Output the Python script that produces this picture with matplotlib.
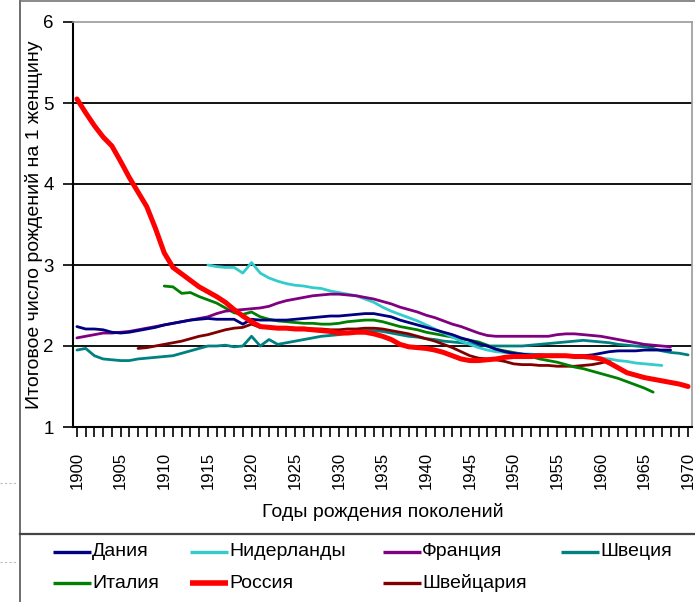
import matplotlib
matplotlib.use("Agg")
import matplotlib.pyplot as plt
from matplotlib.lines import Line2D
from matplotlib.ticker import MultipleLocator
import numpy as np

plt.rcParams['font.family'] = ['Liberation Sans', 'DejaVu Sans']

# ---------------- data ----------------
denmark_years = list(range(1900, 1969))
denmark = [2.24, 2.21, 2.21, 2.20, 2.17, 2.16, 2.17, 2.19, 2.21, 2.23,
           2.26, 2.28, 2.30, 2.32, 2.33, 2.34, 2.33, 2.33, 2.33, 2.27,
           2.33, 2.32, 2.32, 2.32, 2.32, 2.33, 2.34, 2.35, 2.36, 2.37,
           2.37, 2.38, 2.39, 2.40, 2.40, 2.38, 2.36, 2.32, 2.29, 2.26,
           2.23, 2.20, 2.17, 2.14, 2.10, 2.07, 2.03, 2.00, 1.96, 1.93,
           1.91, 1.90, 1.89, 1.89, 1.88, 1.88, 1.88, 1.88, 1.88, 1.89,
           1.91, 1.93, 1.94, 1.94, 1.94, 1.95, 1.95, 1.95, 1.95]

netherlands_years = list(range(1915, 1968))
netherlands = [3.00, 2.98, 2.97, 2.97, 2.90, 3.03, 2.90, 2.84, 2.80, 2.77,
               2.75, 2.74, 2.72, 2.71, 2.68, 2.66, 2.64, 2.62, 2.58, 2.54,
               2.48, 2.43, 2.39, 2.35, 2.31, 2.26, 2.21, 2.16, 2.11, 2.06,
               2.02, 1.98, 1.95, 1.93, 1.92, 1.91, 1.90, 1.90, 1.89, 1.89,
               1.89, 1.88, 1.88, 1.87, 1.86, 1.85, 1.84, 1.82, 1.81, 1.79,
               1.78, 1.77, 1.76]

france_years = list(range(1900, 1969))
france = [2.10, 2.12, 2.14, 2.16, 2.16, 2.17, 2.18, 2.20, 2.22, 2.24,
          2.26, 2.28, 2.30, 2.32, 2.34, 2.36, 2.40, 2.43, 2.44, 2.45,
          2.46, 2.47, 2.49, 2.53, 2.56, 2.58, 2.60, 2.62, 2.63, 2.64,
          2.64, 2.63, 2.62, 2.60, 2.58, 2.55, 2.52, 2.48, 2.45, 2.42,
          2.38, 2.35, 2.31, 2.27, 2.24, 2.20, 2.16, 2.13, 2.12, 2.12,
          2.12, 2.12, 2.12, 2.12, 2.12, 2.14, 2.15, 2.15, 2.14, 2.13,
          2.12, 2.10, 2.08, 2.06, 2.04, 2.02, 2.01, 2.00, 1.99]

sweden_years = list(range(1900, 1971))
sweden = [1.95, 1.97, 1.88, 1.84, 1.83, 1.82, 1.82, 1.84, 1.85, 1.86,
          1.87, 1.88, 1.91, 1.94, 1.97, 2.00, 2.00, 2.01, 1.99, 2.00,
          2.12, 2.00, 2.08, 2.02, 2.04, 2.06, 2.08, 2.10, 2.12, 2.13,
          2.14, 2.16, 2.18, 2.19, 2.19, 2.18, 2.16, 2.14, 2.12, 2.11,
          2.09, 2.08, 2.06, 2.05, 2.04, 2.03, 2.02, 2.00, 2.00, 2.00,
          2.00, 2.00, 2.01, 2.02, 2.03, 2.04, 2.05, 2.06, 2.07, 2.06,
          2.05, 2.04, 2.02, 2.01, 2.00, 1.99, 1.97, 1.94, 1.92, 1.91,
          1.89]

italy_years = list(range(1910, 1967))
italy = [2.74, 2.73, 2.65, 2.66, 2.61, 2.57, 2.53, 2.47, 2.41, 2.39,
         2.42, 2.36, 2.33, 2.31, 2.30, 2.29, 2.28, 2.28, 2.27, 2.27,
         2.28, 2.30, 2.31, 2.32, 2.32, 2.30, 2.27, 2.24, 2.22, 2.20,
         2.17, 2.15, 2.13, 2.11, 2.09, 2.07, 2.05, 2.01, 1.96, 1.94,
         1.92, 1.90, 1.87, 1.84, 1.82, 1.80, 1.77, 1.74, 1.72, 1.69,
         1.66, 1.63, 1.60, 1.56, 1.52, 1.48, 1.43]

russia_years = list(range(1900, 1971))
russia = [5.05, 4.88, 4.72, 4.58, 4.47, 4.28, 4.08, 3.90, 3.72, 3.45,
          3.15, 2.97, 2.89, 2.81, 2.73, 2.67, 2.61, 2.54, 2.45, 2.37,
          2.30, 2.24, 2.23, 2.22, 2.22, 2.21, 2.21, 2.20, 2.19, 2.18,
          2.16, 2.16, 2.17, 2.17, 2.15, 2.12, 2.08, 2.02, 1.99, 1.98,
          1.97, 1.95, 1.92, 1.88, 1.84, 1.82, 1.82, 1.83, 1.84, 1.86,
          1.87, 1.87, 1.87, 1.88, 1.88, 1.88, 1.88, 1.87, 1.87, 1.86,
          1.84, 1.79, 1.73, 1.67, 1.64, 1.61, 1.59, 1.57, 1.55, 1.53,
          1.50]

swiss_years = list(range(1907, 1962))
swiss = [1.97, 1.98, 2.00, 2.02, 2.04, 2.06, 2.09, 2.12, 2.14, 2.17,
         2.20, 2.22, 2.23, 2.27, 2.23, 2.23, 2.23, 2.23, 2.22, 2.22,
         2.21, 2.21, 2.20, 2.20, 2.21, 2.21, 2.22, 2.22, 2.21, 2.19,
         2.17, 2.15, 2.12, 2.09, 2.06, 2.02, 1.98, 1.93, 1.88, 1.85,
         1.84, 1.83, 1.81, 1.78, 1.77, 1.77, 1.76, 1.76, 1.75, 1.75,
         1.75, 1.76, 1.77, 1.79, 1.82]

series = [
    ("Дания", denmark_years, denmark, "#000080", 2.0),
    ("Нидерланды", netherlands_years, netherlands, "#33CCCC", 2.0),
    ("Франция", france_years, france, "#800080", 2.0),
    ("Швеция", sweden_years, sweden, "#008080", 2.0),
    ("Италия", italy_years, italy, "#008000", 2.0),
    ("Россия", russia_years, russia, "#FF0000", 3.6),
    ("Швейцария", swiss_years, swiss, "#800000", 2.0),
]
draw_order = ["Швеция", "Швейцария", "Италия", "Нидерланды", "Франция", "Дания", "Россия"]

y_ticks = [1, 2, 3, 4, 5, 6]
x_tick_labels = [str(y) for y in range(1900, 1971, 5)]

# ---------------- figure ----------------
W, H = 695, 602
fig = plt.figure(figsize=(W / 100, H / 100), dpi=100)
fig.patch.set_facecolor("white")

ax_l, ax_r, ax_t, ax_b = 73, 692, 22, 427
ax = fig.add_axes([ax_l / W, 1 - ax_b / H, (ax_r - ax_l) / W, (ax_b - ax_t) / H])

lookup = {s[0]: s for s in series}
for name in draw_order:
    _, xs, ys, col, lw = lookup[name]
    ax.plot(xs, ys, color=col, lw=lw, solid_joinstyle="round", solid_capstyle="round", zorder=3)

ax.set_xlim(1899.55, 1970.45)
ax.set_ylim(1, 6)
ax.set_yticks(y_ticks)
ax.set_yticklabels([str(v) for v in y_ticks], fontsize=13.5)
ax.xaxis.set_minor_locator(MultipleLocator(1))
ax.set_xticks(list(range(1900, 1971, 5)))
ax.set_xticklabels(x_tick_labels, rotation=90, fontsize=12)
ax.tick_params(axis="x", which="both", direction="out", length=7, width=1.2, color="black", pad=11)
ax.tick_params(axis="y", which="major", direction="out", length=7, width=1.2, color="black", pad=7)

for v in [2, 3, 4, 5]:
    ax.axhline(v, color="black", lw=1.3, zorder=2)

for side in ["left", "bottom"]:
    ax.spines[side].set_color("black")
    ax.spines[side].set_linewidth(1.5)
for side in ["top", "right"]:
    ax.spines[side].set_color("#999999")
    ax.spines[side].set_linewidth(1.2)

ax.set_xlabel("Годы рождения поколений", fontsize=14, labelpad=10)
ax.set_ylabel("Итоговое число рождений на 1 женщину", fontsize=14)
ax.yaxis.set_label_coords((43 - ax_l) / (ax_r - ax_l), 0.5)

# ---------------- chart frame ----------------
fig.add_artist(Line2D([20 / W, 20 / W], [0, 1], color="#555555", lw=1.2, transform=fig.transFigure))
fig.add_artist(Line2D([20 / W, 1], [1 - 0.8 / H, 1 - 0.8 / H], color="#777777", lw=1.2, transform=fig.transFigure))
fig.add_artist(Line2D([20 / W, 1], [1 - 534 / H, 1 - 534 / H], color="#444444", lw=1.6, transform=fig.transFigure))
for yy in [483, 562]:
    fig.add_artist(Line2D([0, 17 / W], [1 - yy / H, 1 - yy / H], color="#bbbbbb", lw=0.8,
                          ls=(0, (2, 2)), transform=fig.transFigure))

# ---------------- legend ----------------
legend_pos = {
    "Дания": (53, 552), "Нидерланды": (190, 552), "Франция": (383, 552), "Швеция": (561, 552),
    "Италия": (53, 583), "Россия": (190, 583), "Швейцария": (383, 583),
}
for name, xs, ys, col, lw in series:
    x0, y0 = legend_pos[name]
    fig.add_artist(Line2D([x0 / W, (x0 + 38) / W], [1 - y0 / H, 1 - y0 / H], color=col,
                          lw=lw + 0.4, solid_capstyle="butt", transform=fig.transFigure))
    fig.text((x0 + 39) / W, 1 - y0 / H, name, fontsize=14, va="center", ha="left")

fig.savefig("out.png", dpi=100, facecolor="white")
